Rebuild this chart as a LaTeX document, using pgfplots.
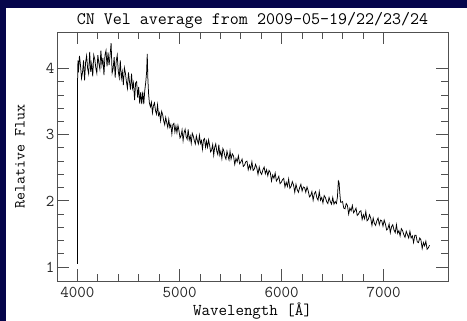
\documentclass[border=0pt]{standalone}
\usepackage{fontspec}
\usepackage{pgfplots}
\pgfplotsset{compat=1.18}
\definecolor{navy}{RGB}{5,5,75}
\definecolor{framec}{RGB}{80,80,80}
\begin{document}
\begin{tikzpicture}[x=1pt,y=1pt]
\useasboundingbox (0,0) rectangle (467,321);
\fill[white] (0,0) rectangle (467,321);
\fill[navy] (0,0) rectangle (6,321);
\fill[navy] (0,313) rectangle (467,321);
\begin{axis}[
  at={(57pt,40pt)}, anchor=south west,
  scale only axis, width=391pt, height=249pt,
  xmin=3800, xmax=7630, ymin=0.79, ymax=4.55,
  xtick={4000,5000,6000,7000}, ytick={1,2,3,4},
  minor x tick num=4, minor y tick num=4,
  tick align=inside, tickpos=both,
  major tick length=12pt, minor tick length=7pt,
  axis line style={framec, line width=0.9pt},
  every tick/.style={framec, line width=0.8pt},
  /pgf/number format/assume math mode=true,
  /pgf/number format/1000 sep={},
  tick label style={font=\ttfamily\fontsize{16.5}{18}\selectfont, text=black!85},
  xticklabel style={yshift=-3pt},
  yticklabel style={xshift=1pt},
  title={CN Vel average from 2009-05-19/22/23/24},
  title style={font=\ttfamily\fontsize{17.5}{20}\selectfont, at={(axis description cs:0.5,1.052)}, anchor=center, yshift=-7pt},
  xlabel={Wavelength [Å]},
  xlabel style={font=\ttfamily\fontsize{16.5}{18}\selectfont, at={(axis description cs:0.5,0)}, anchor=center, yshift=-30pt},
  ylabel={Relative Flux},
  ylabel style={font=\ttfamily\fontsize{15.5}{18}\selectfont, at={(axis description cs:-0.0946,0.5)}, anchor=center},
]
\addplot[black, line width=0.75pt] table {
x y
4000 1.05
4002 3.85
4005 4.12
4010 3.94
4020 4.19
4030 4.05
4040 3.85
4050 3.94
4060 4.12
4070 3.82
4080 4.09
4090 4.19
4100 4.00
4110 3.92
4120 4.25
4130 3.95
4140 4.07
4150 3.88
4160 4.20
4170 4.14
4180 4.01
4190 3.93
4200 4.20
4210 4.08
4220 3.99
4230 4.27
4240 4.05
4250 4.16
4260 3.90
4270 4.20
4280 4.27
4290 4.03
4300 4.24
4310 4.05
4320 4.20
4330 4.38
4340 3.93
4350 4.00
4360 4.17
4370 3.86
4380 4.11
4390 4.20
4400 3.96
4410 3.86
4420 4.12
4430 3.85
4440 3.95
4450 3.75
4460 4.01
4470 3.93
4480 3.80
4490 3.70
4500 3.94
4510 3.80
4520 3.68
4530 3.92
4540 3.70
4550 3.78
4560 3.52
4570 3.78
4580 3.80
4590 3.56
4600 3.72
4610 3.47
4620 3.64
4630 3.46
4640 3.65
4650 3.46
4660 3.67
4670 3.80
4678 3.95
4684 4.22
4690 3.85
4697 3.62
4705 3.48
4715 3.42
4725 3.49
4735 3.33
4745 3.44
4755 3.48
4765 3.36
4775 3.31
4785 3.45
4795 3.29
4805 3.33
4815 3.21
4825 3.35
4835 3.30
4845 3.21
4855 3.15
4865 3.26
4875 3.18
4885 3.11
4895 3.23
4905 3.11
4915 3.15
4925 3.01
4935 3.15
4945 3.17
4955 3.04
4965 3.13
4975 3.03
4985 3.14
4995 3.06
5005 2.95
5015 2.98
5025 3.07
5035 2.91
5045 3.03
5055 3.08
5065 2.97
5075 2.93
5085 3.08
5095 2.92
5105 2.98
5115 2.87
5125 3.02
5135 2.98
5145 2.91
5155 2.86
5165 2.98
5175 2.91
5185 2.86
5195 2.99
5205 2.87
5215 2.91
5225 2.78
5235 2.92
5245 2.94
5255 2.81
5265 2.90
5275 2.81
5285 2.92
5295 2.84
5305 2.74
5315 2.77
5325 2.85
5335 2.69
5345 2.81
5355 2.86
5365 2.75
5375 2.70
5385 2.85
5395 2.69
5405 2.75
5415 2.64
5425 2.79
5435 2.75
5445 2.67
5455 2.63
5465 2.75
5475 2.68
5485 2.62
5495 2.75
5505 2.63
5517 2.71
5529 2.68
5541 2.55
5553 2.64
5565 2.59
5577 2.68
5589 2.56
5601 2.59
5613 2.63
5625 2.52
5637 2.54
5649 2.59
5661 2.60
5673 2.47
5685 2.54
5697 2.48
5709 2.59
5721 2.46
5733 2.48
5745 2.55
5757 2.50
5769 2.40
5781 2.51
5793 2.43
5805 2.40
5817 2.47
5829 2.51
5841 2.41
5853 2.47
5865 2.38
5877 2.46
5889 2.43
5901 2.30
5913 2.39
5925 2.34
5937 2.42
5949 2.30
5961 2.33
5973 2.37
5985 2.26
5997 2.28
6009 2.32
6021 2.34
6033 2.21
6045 2.28
6057 2.22
6069 2.33
6081 2.19
6093 2.22
6105 2.29
6117 2.24
6129 2.13
6141 2.25
6153 2.17
6165 2.13
6177 2.20
6189 2.25
6201 2.15
6213 2.21
6225 2.20
6237 2.13
6249 2.21
6261 2.15
6273 2.06
6285 2.08
6297 2.14
6309 2.01
6321 2.11
6333 2.14
6345 2.05
6357 2.01
6369 2.14
6381 2.01
6393 2.05
6405 1.97
6417 2.08
6429 2.05
6441 1.99
6453 1.96
6465 2.05
6477 1.99
6489 1.95
6501 2.05
6513 1.95
6525 1.99
6537 1.96
6547 2.06
6556 2.30
6563 2.28
6570 2.12
6578 1.98
6585 1.98
6597 1.99
6609 1.89
6621 1.88
6633 1.96
6645 1.93
6657 1.80
6669 1.89
6681 1.85
6693 1.93
6705 1.82
6717 1.85
6729 1.89
6741 1.78
6753 1.80
6765 1.84
6777 1.85
6789 1.72
6801 1.79
6813 1.73
6825 1.84
6837 1.70
6849 1.72
6861 1.79
6873 1.74
6885 1.63
6897 1.74
6909 1.66
6921 1.63
6933 1.70
6945 1.74
6957 1.64
6969 1.71
6981 1.70
6993 1.62
7005 1.71
7017 1.65
7029 1.56
7041 1.58
7053 1.65
7065 1.52
7077 1.61
7089 1.64
7101 1.56
7113 1.52
7125 1.64
7137 1.51
7149 1.55
7161 1.47
7173 1.58
7185 1.55
7197 1.49
7209 1.45
7221 1.54
7233 1.49
7245 1.44
7257 1.54
7269 1.44
7281 1.47
7293 1.37
7305 1.48
7317 1.48
7329 1.38
7341 1.37
7353 1.44
7365 1.41
7377 1.28
7389 1.37
7401 1.32
7413 1.39
7425 1.27
7437 1.29
7449 1.33
};
\end{axis}
\end{tikzpicture}
\end{document}
